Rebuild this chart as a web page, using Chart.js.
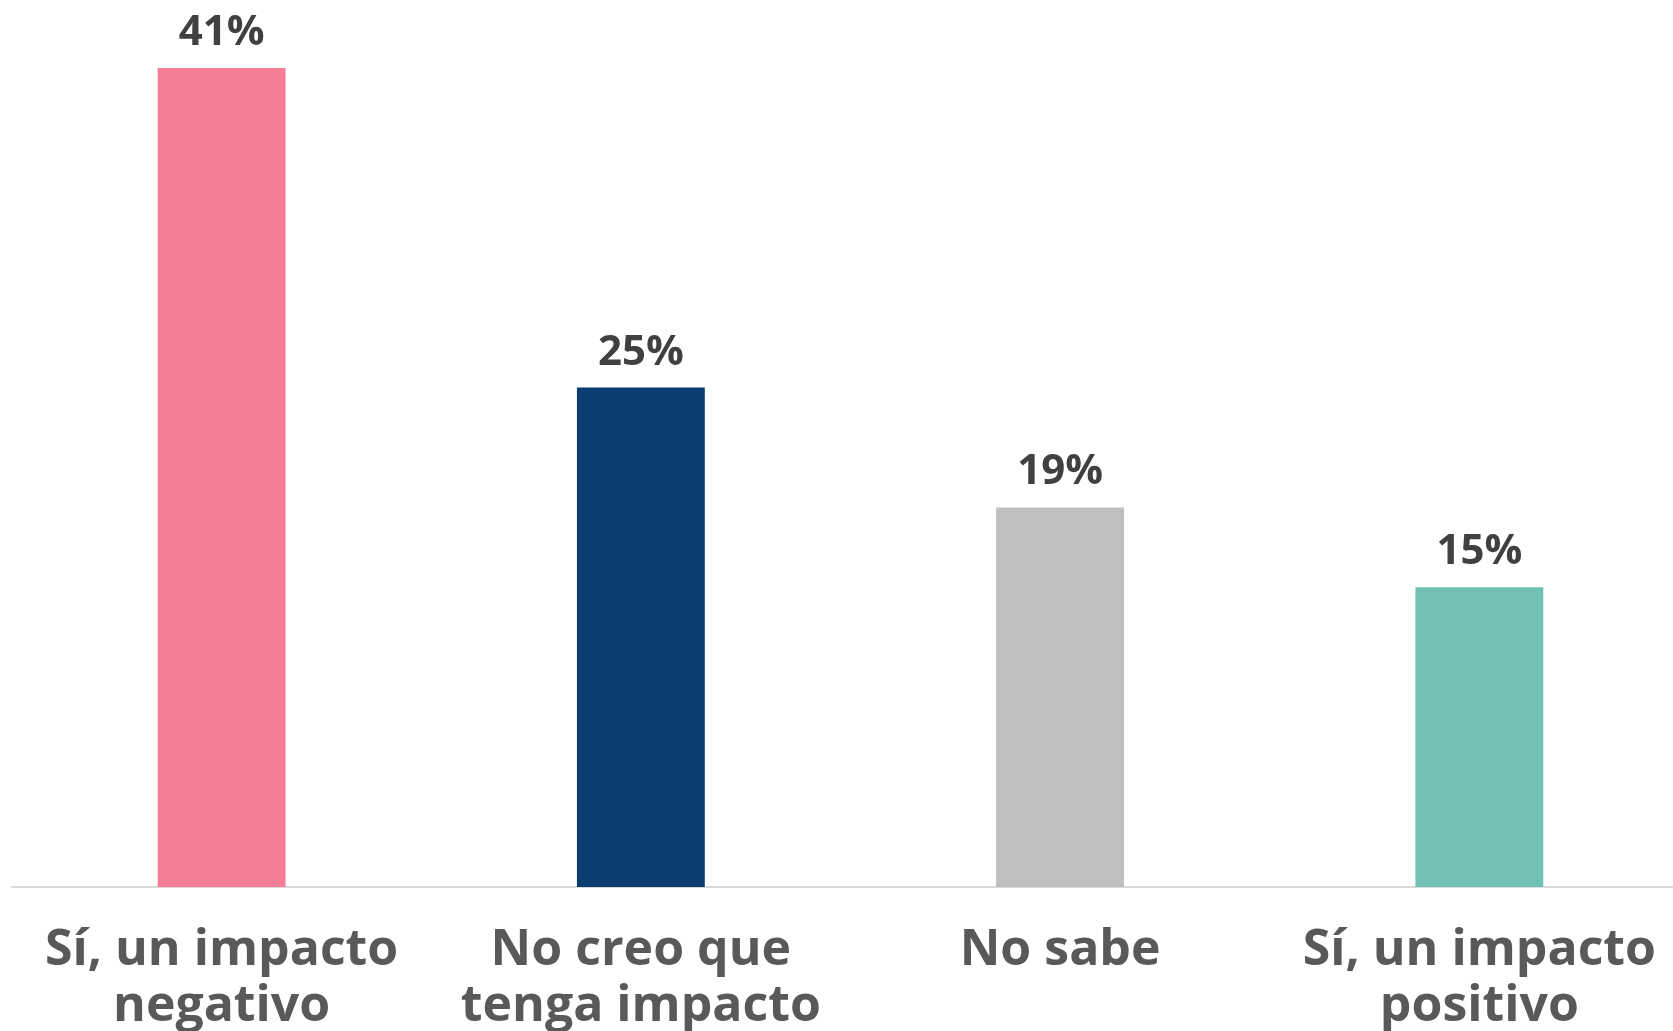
<!DOCTYPE html>
<html>

<head>
    <meta charset="utf-8">
    <title>Impacto</title>
    <script src="https://cdn.jsdelivr.net/npm/chart.js"></script>
    <style>
        html, body {
            margin: 0;
            padding: 0;
            background: #ffffff;
            overflow: hidden;
        }

        /* a bit wider and taller than the window: the last category and
           the empty space under the labels are cut off like in the original */
        .chart-box {
            width: 1692px;
            height: 1071px;
        }
    </style>
</head>

<body>
    <div class="chart-box">
        <canvas id="graph"></canvas>
    </div>

    <script>
        const categories = [
            ['Sí, un impacto', 'negativo'],
            ['No creo que', 'tenga impacto'],
            'No sabe',
            ['Sí, un impacto', 'positivo']
        ];
        const values = [41, 25, 19, 15];
        const barColors = ['#F57D96', '#0B3D70', '#BFBFBF', '#71C0B4'];

        // draws "41%" etc. above every bar
        const valueLabels = {
            id: 'valueLabels',
            afterDatasetsDraw(chart) {
                const ctx = chart.ctx;
                const meta = chart.getDatasetMeta(0);
                ctx.save();
                ctx.font = '700 42px "Open Sans"';
                ctx.fillStyle = '#404040';
                ctx.textAlign = 'center';
                ctx.textBaseline = 'alphabetic';
                meta.data.forEach((bar, i) => {
                    ctx.fillText(values[i] + '%', bar.x, bar.y - 23);
                });
                ctx.restore();
            }
        };

        const ctx = document.getElementById('graph').getContext('2d');

        new Chart(ctx, {
            type: 'bar',
            data: {
                labels: categories,
                datasets: [{
                    data: values,
                    backgroundColor: barColors,
                    borderWidth: 0,
                    barPercentage: 0.305,
                    categoryPercentage: 1.0
                }]
            },
            options: {
                responsive: true,
                maintainAspectRatio: false,
                animation: false,
                layout: {
                    padding: { top: 8, left: 12, right: 0, bottom: 0 }
                },
                plugins: {
                    legend: { display: false },
                    tooltip: { enabled: false }
                },
                scales: {
                    x: {
                        grid: { display: false, drawTicks: false },
                        border: { display: true, color: '#D9D9D9', width: 2 },
                        ticks: {
                            padding: 36,
                            color: '#595959',
                            font: { family: '"Open Sans"', size: 50, weight: '700', lineHeight: 1.12 },
                            maxRotation: 0
                        }
                    },
                    y: {
                        display: false,
                        min: 0,
                        max: 44
                    }
                }
            },
            plugins: [valueLabels]
        });
    </script>
</body>

</html>
